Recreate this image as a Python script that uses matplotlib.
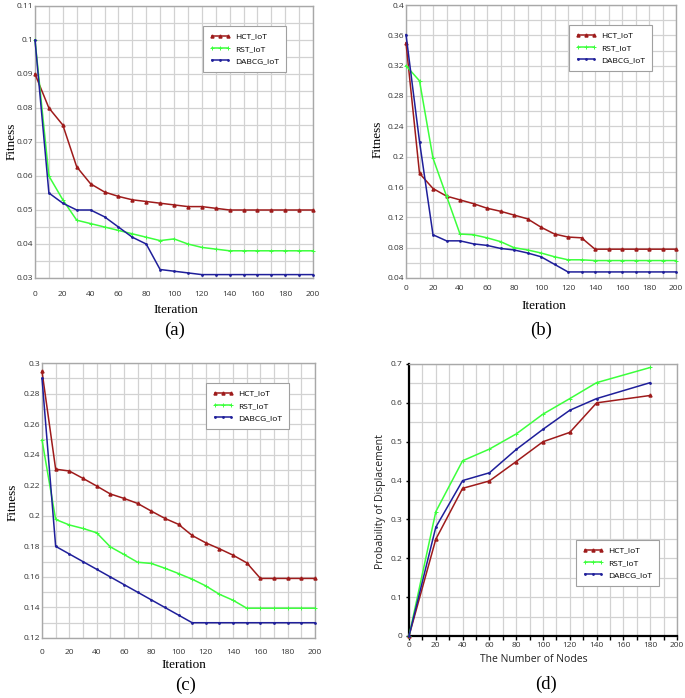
import matplotlib
matplotlib.use("Agg")
import matplotlib.pyplot as plt
from matplotlib.ticker import MultipleLocator
from matplotlib.lines import Line2D

W, H = 685, 698

# ---------------- data ----------------
iters = list(range(0, 201, 10))

a_hct = [0.090, 0.080, 0.075, 0.0627, 0.0577, 0.0553, 0.054, 0.053, 0.0525, 0.052, 0.0515,
         0.051, 0.051, 0.0505, 0.050, 0.050, 0.050, 0.050, 0.050, 0.050, 0.050]
a_rst = [0.100, 0.060, 0.053, 0.047, 0.046, 0.045, 0.044, 0.043, 0.042, 0.041, 0.0415,
         0.040, 0.039, 0.0385, 0.038, 0.038, 0.038, 0.038, 0.038, 0.038, 0.038]
a_dab = [0.100, 0.055, 0.052, 0.050, 0.050, 0.048, 0.045, 0.042, 0.040, 0.0325, 0.032,
         0.0315, 0.031, 0.031, 0.031, 0.031, 0.031, 0.031, 0.031, 0.031, 0.031]

b_hct = [0.350, 0.178, 0.158, 0.148, 0.143, 0.138, 0.132, 0.128, 0.123, 0.118, 0.107,
         0.098, 0.094, 0.093, 0.078, 0.078, 0.078, 0.078, 0.078, 0.078, 0.078]
b_rst = [0.320, 0.300, 0.198, 0.148, 0.098, 0.097, 0.093, 0.088, 0.080, 0.077, 0.073,
         0.068, 0.064, 0.064, 0.063, 0.063, 0.063, 0.063, 0.063, 0.063, 0.063]
b_dab = [0.361, 0.220, 0.097, 0.089, 0.089, 0.085, 0.083, 0.079, 0.077, 0.073, 0.068,
         0.058, 0.048, 0.048, 0.048, 0.048, 0.048, 0.048, 0.048, 0.048, 0.048]

c_hct = [0.2945, 0.2305, 0.2293, 0.2245, 0.2195, 0.2143, 0.2114, 0.2081, 0.2031, 0.1983, 0.1944,
         0.1871, 0.1823, 0.1784, 0.1742, 0.1692, 0.159, 0.159, 0.159, 0.159, 0.159]
c_rst = [0.2497, 0.1976, 0.194, 0.1917, 0.1889, 0.1797, 0.1747, 0.1696, 0.1688, 0.1657, 0.1622,
         0.1585, 0.1541, 0.1486, 0.1447, 0.1395, 0.1395, 0.1395, 0.1395, 0.1395, 0.1395]
c_dab = [0.290, 0.180, 0.175, 0.170, 0.165, 0.160, 0.155, 0.150, 0.145, 0.140, 0.135,
         0.130, 0.130, 0.130, 0.130, 0.130, 0.130, 0.130, 0.130, 0.130, 0.130]

nodes = [0, 20, 40, 60, 80, 100, 120, 140, 180]
d_hct = [0.0, 0.249, 0.380, 0.399, 0.449, 0.500, 0.524, 0.600, 0.619]
d_rst = [0.0, 0.320, 0.451, 0.481, 0.520, 0.571, 0.611, 0.652, 0.691]
d_dab = [0.0, 0.280, 0.400, 0.420, 0.480, 0.532, 0.581, 0.611, 0.652]

series_names = ["HCT_IoT", "RST_IoT", "DABCG_IoT"]
panel_labels = ["(a)", "(b)", "(c)", "(d)"]

# ---------------- styles ----------------
C_HCT = "#9e1b1b"
C_RST = "#3cff3c"
C_DAB = "#1f1f9a"
styles = [
    dict(color=C_HCT, marker="^", markersize=2.2, lw=1.1),
    dict(color=C_RST, marker="+", markersize=3.0, lw=1.1, markeredgewidth=0.7),
    dict(color=C_DAB, marker=".", markersize=2.0, lw=1.1),
]
SERIF = "Liberation Serif"
SANS = "Open Sans"
GRID = "#d2d2d2"
SPINE = "#a8a8a8"
TICKC = "#333333"

fig = plt.figure(figsize=(W / 100, H / 100), dpi=100)
fig.patch.set_facecolor("white")


def rect(l, r, t, b):
    return [l / W, 1 - b / H, (r - l) / W, (b - t) / H]


def fx(x):
    return x / W


def fy(y):
    return 1 - y / H


def setup(ax, ylim, ymaj, ymin, xpad, dark=False):
    ax.set_xlim(0, 200)
    ax.set_ylim(*ylim)
    ax.xaxis.set_major_locator(MultipleLocator(20))
    ax.xaxis.set_minor_locator(MultipleLocator(10))
    ax.yaxis.set_major_locator(MultipleLocator(ymaj))
    ax.yaxis.set_minor_locator(MultipleLocator(ymin))
    ax.grid(which="both", color=GRID, lw=0.9)
    ax.set_axisbelow(True)
    for s in ax.spines.values():
        s.set_color(SPINE)
        s.set_linewidth(1.0)
    if dark:
        for s in ("left", "bottom"):
            ax.spines[s].set_color("black")
            ax.spines[s].set_linewidth(1.6)
        ax.tick_params(axis="x", which="both", direction="out", length=3.0, width=1.0,
                       color="black", pad=xpad)
        ax.tick_params(axis="y", which="major", direction="out", length=2.5, width=1.0,
                       color="black", pad=2)
        ax.tick_params(axis="y", which="minor", length=0)
    else:
        ax.tick_params(axis="both", which="both", length=0)
        ax.tick_params(axis="x", pad=xpad)
        ax.tick_params(axis="y", pad=1)
    ax.tick_params(labelsize=6, labelcolor=TICKC)


def fmt_y(ax, ticks):
    ax.set_yticks(ticks)
    ax.set_yticklabels([("%g" % t) for t in ticks], fontfamily=SANS, fontsize=6, color=TICKC)


def add_legend(ax, x, y):
    handles = [Line2D([], [], **st) for st in styles]
    lg = ax.legend(handles, series_names, loc="upper left",
                   bbox_to_anchor=(fx(x), fy(y)), bbox_transform=fig.transFigure,
                   borderaxespad=0, fancybox=False, framealpha=1, edgecolor="#a0a0a0",
                   prop=dict(family=SANS, size=6), handlelength=2.5, labelspacing=0.55,
                   borderpad=0.8, handletextpad=0.6, numpoints=3)
    lg.get_frame().set_linewidth(0.8)


panels = [
    (rect(35, 313, 6, 278), iters, [a_hct, a_rst, a_dab], (0.03, 0.11), 0.01, 0.005,
     [0.03, 0.04, 0.05, 0.06, 0.07, 0.08, 0.09, 0.1, 0.11], 9, (203, 26)),
    (rect(406, 676, 5, 278), iters, [b_hct, b_rst, b_dab], (0.04, 0.4), 0.04, 0.02,
     [0.04, 0.08, 0.12, 0.16, 0.2, 0.24, 0.28, 0.32, 0.36, 0.4], 5, (569, 25)),
    (rect(42, 315, 363, 638), iters, [c_hct, c_rst, c_dab], (0.12, 0.3), 0.02, 0.01,
     [0.12, 0.14, 0.16, 0.18, 0.2, 0.22, 0.24, 0.26, 0.28, 0.3], 8, (206, 383)),
    (rect(409, 677, 364, 636), nodes, [d_hct, d_rst, d_dab], (0.0, 0.7), 0.1, 0.05,
     [0, 0.1, 0.2, 0.3, 0.4, 0.5, 0.6, 0.7], 1.5, (576, 540)),
]

axes = []
for i, (r, xs, ys, ylim, ymaj, ymin, yt, xpad, legpos) in enumerate(panels):
    ax = fig.add_axes(r)
    setup(ax, ylim, ymaj, ymin, xpad, dark=(i == 3))
    for yv, st in zip(ys, styles):
        ax.plot(xs, yv, clip_on=False, zorder=3, **st)
    fmt_y(ax, yt)
    ax.yaxis.set_minor_locator(MultipleLocator(ymin))
    ax.set_xticks(list(range(0, 201, 20)))
    ax.set_xticklabels([str(v) for v in range(0, 201, 20)], fontfamily=SANS, fontsize=6,
                       color=TICKC)
    add_legend(ax, *legpos)
    axes.append(ax)

# axis titles
fig.text(fx(176), fy(310), "Iteration", family=SERIF, fontsize=9.5, ha="center", va="center")
fig.text(fx(544), fy(306), "Iteration", family=SERIF, fontsize=9.5, ha="center", va="center")
fig.text(fx(184), fy(665), "Iteration", family=SERIF, fontsize=9.5, ha="center", va="center")
fig.text(fx(534), fy(659), "The Number of Nodes", family=SANS, fontsize=7.5, ha="center",
         va="center", color="#222222")

fig.text(fx(12), fy(141), "Fitness", family=SERIF, fontsize=9.5, rotation=90, ha="center",
         va="center")
fig.text(fx(378), fy(139), "Fitness", family=SERIF, fontsize=9.5, rotation=90, ha="center",
         va="center")
fig.text(fx(13), fy(502), "Fitness", family=SERIF, fontsize=9.5, rotation=90, ha="center",
         va="center")
fig.text(fx(380), fy(502), "Probability of Displacement", family=SANS, fontsize=7.6,
         rotation=90, ha="center", va="center", color="#222222")

# panel labels
for lab, (x, y) in zip(panel_labels, [(175, 330), (541, 330), (186, 685), (546, 684)]):
    fig.text(fx(x), fy(y), lab, family=SERIF, fontsize=13.5, ha="center", va="center")

fig.savefig("out.png", dpi=100)
